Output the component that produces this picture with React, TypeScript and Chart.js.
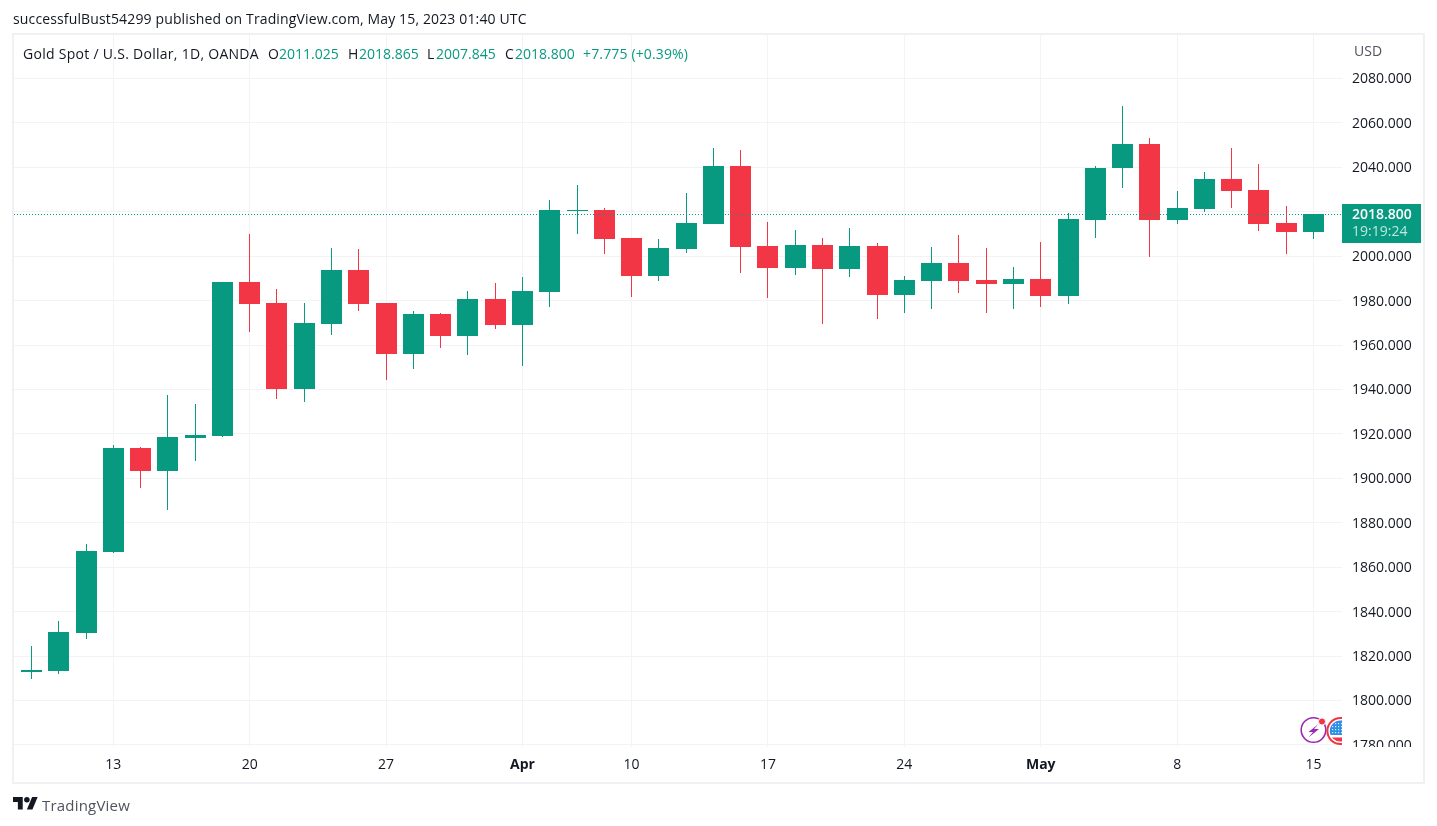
import React, { useEffect, useRef } from 'react';
import { Chart, registerables } from 'chart.js';

Chart.register(...registerables);

const dates = [
    'Mar 8', 'Mar 9', 'Mar 10', 'Mar 13', 'Mar 14', 'Mar 15', 'Mar 16', 'Mar 17',
    'Mar 20', 'Mar 21', 'Mar 22', 'Mar 23', 'Mar 24', 'Mar 27', 'Mar 28', 'Mar 29', 'Mar 30', 'Mar 31',
    'Apr 3', 'Apr 4', 'Apr 5', 'Apr 6', 'Apr 10', 'Apr 11', 'Apr 12', 'Apr 13', 'Apr 14',
    'Apr 17', 'Apr 18', 'Apr 19', 'Apr 20', 'Apr 21', 'Apr 24', 'Apr 25', 'Apr 26', 'Apr 27', 'Apr 28',
    'May 1', 'May 2', 'May 3', 'May 4', 'May 5', 'May 8', 'May 9', 'May 10', 'May 11', 'May 12', 'May 15',
];

const opens = [
    1812.8, 1813.3, 1830.4, 1866.9, 1913.8, 1903.4, 1918.3, 1919.2,
    1988.5, 1979.0, 1940.3, 1969.6, 1994.0, 1979.0, 1956.1, 1974.1, 1964.2, 1980.9,
    1969.2, 1984.0, 2020.5, 2021.0, 2008.4, 1991.2, 2003.4, 2014.7, 2040.8,
    2004.8, 1994.8, 2005.2, 1994.4, 2004.8, 1982.7, 1989.0, 1997.1, 1989.4, 1987.6,
    1989.9, 1982.2, 2016.5, 2039.5, 2050.7, 2016.5, 2021.4, 2034.9, 2030.0, 2015.1, 2011.025,
];
const highs = [
    1824.6, 1835.8, 1870.5, 1915.1, 1914.2, 1937.6, 1933.6, 1988.6,
    2010.2, 1985.4, 1979.0, 2003.9, 2003.4, 1979.0, 1975.5, 1974.6, 1984.5, 1988.1,
    1990.8, 2025.5, 2032.2, 2021.9, 2008.4, 2007.9, 2028.6, 2048.9, 2048.0,
    2015.6, 2012.0, 2008.4, 2012.9, 2006.1, 1991.2, 2004.3, 2009.7, 2003.9, 1995.3,
    2006.6, 2019.6, 2040.8, 2067.4, 2053.4, 2029.5, 2038.1, 2048.5, 2041.7, 2022.8, 2018.865,
];
const lows = [
    1809.7, 1811.9, 1827.7, 1866.5, 1895.7, 1885.8, 1907.9, 1918.7,
    1966.0, 1935.8, 1934.5, 1964.7, 1975.5, 1944.4, 1949.3, 1958.8, 1955.7, 1967.4,
    1950.7, 1977.3, 2010.2, 2001.2, 1981.8, 1989.0, 2001.6, 2014.6, 1992.6,
    1981.3, 1991.7, 1969.6, 1990.8, 1971.9, 1974.6, 1976.4, 1983.6, 1974.6, 1976.4,
    1977.3, 1978.6, 2008.4, 2030.9, 1999.8, 2014.7, 2020.1, 2021.9, 2011.5, 2001.2, 2007.845,
];
const closes = [
    1813.7, 1830.9, 1867.3, 1913.8, 1903.4, 1918.7, 1919.6, 1988.5,
    1978.6, 1940.3, 1970.1, 1994.0, 1978.6, 1956.1, 1974.1, 1964.2, 1980.9, 1969.2,
    1984.5, 2021.0, 2021.0, 2007.9, 1991.2, 2003.9, 2015.1, 2040.8, 2004.3,
    1994.8, 2005.2, 1994.4, 2004.8, 1982.7, 1989.4, 1997.1, 1989.0, 1987.6, 1989.9,
    1982.2, 2016.9, 2039.9, 2050.7, 2016.5, 2021.9, 2034.9, 2029.5, 2014.7, 2011.1, 2018.8,
];

const tickDates = ['Mar 13', 'Mar 20', 'Mar 27', 'Apr 3', 'Apr 10', 'Apr 17', 'Apr 24', 'May 1', 'May 8', 'May 15'];
const tickLabels = ['13', '20', '27', 'Apr', '10', '17', '24', 'May', '8', '15'];
const boldTicks = ['Apr', 'May'];

const UP = '#089981';
const DOWN = '#F23645';
const GRID = '#f3f3f6';
const FRAME = '#f0f0f5';
const TEXT = '#131722';
const FONT = '"Open Sans", sans-serif';

const X_MIN = -0.6416;
const X_MAX = 48.044;
const Y_MIN = 1779.07;
const Y_MAX = 2099.58;

const lastIndex = closes.length - 1;
const candleColors = closes.map((c, i) => (c >= opens[i] ? UP : DOWN));
const fmt = (v: number) => v.toFixed(3);
const change = closes[lastIndex] - opens[lastIndex];

// TradingView draws candles on whole pixels, so snap what the scales placed
const snapBars = {
    id: 'snapBars',
    beforeDatasetsDraw(chart: any) {
        chart.getSortedVisibleDatasetMetas().forEach((meta: any) => {
            meta.data.forEach((el: any) => {
                if (meta.type === 'line') {
                    el.y = Math.floor(el.y) + 0.5;
                    return;
                }
                el.x = Math.floor(el.x) + 0.5;
                el.y = Math.round(el.y);
                el.base = Math.round(el.base);
                if (el.y === el.base) el.base += 1;
            });
        });
    },
};

// Open Sans sits a bit high on the middle baseline
const nudgeLabels = {
    id: 'nudgeLabels',
    beforeDraw(chart: any) {
        chart.scales.y.getLabelItems(chart.chartArea).forEach((item: any) => {
            item.options.translation[1] += 1;
        });
    },
};

// last price tag + clipping of the lowest axis label
const priceTag = {
    id: 'priceTag',
    afterDraw(chart: any) {
        const { ctx, chartArea, scales } = chart;
        const y = Math.round(scales.y.getPixelForValue(closes[lastIndex]));
        ctx.save();
        ctx.fillStyle = '#ffffff';
        ctx.fillRect(chartArea.right, chartArea.bottom, scales.y.width - 2, scales.x.height - 2);
        ctx.fillStyle = UP;
        ctx.fillRect(chartArea.right, y - 10, 79, 39);
        ctx.textBaseline = 'middle';
        ctx.textAlign = 'left';
        ctx.font = `600 14px ${FONT}`;
        ctx.fillStyle = '#ffffff';
        ctx.fillText(closes[lastIndex].toFixed(3), chartArea.right + 10, y + 1);
        ctx.font = `14px ${FONT}`;
        ctx.fillStyle = 'rgba(255,255,255,0.75)';
        ctx.fillText('19:19:24', chartArea.right + 10, y + 18.5);
        ctx.restore();
    },
};

const abs = (left: number, top: number, color: string, spacing = 0): React.CSSProperties => ({
    position: 'absolute',
    left,
    top,
    color,
    font: `14px/20px ${FONT}`,
    letterSpacing: spacing,
    whiteSpace: 'nowrap',
});

const EventIcons: React.FC = () => (
    <svg style={{ position: 'absolute', left: 1298, top: 714, overflow: 'hidden' }} width={44} height={33} viewBox="0 0 44 33">
        <defs>
            <clipPath id="flagClip">
                <circle cx={42.4} cy={17} r={10.6} />
            </clipPath>
        </defs>
        <circle cx={15.5} cy={16} r={12.3} fill="#fff" stroke="#9c27b0" strokeWidth={1.6} />
        <path d="M20.5 10 L10.5 18 L15 18 L10.5 23.5 L21 15 L16 15 Z" fill="#9c27b0" />
        <circle cx={24} cy={7.5} r={3.6} fill={DOWN} stroke="#fff" strokeWidth={1} />
        <circle cx={42.4} cy={17} r={13} fill="#fff" stroke={DOWN} strokeWidth={2} />
        <g clipPath="url(#flagClip)">
            <rect x={30} y={6} width={14} height={15} fill="#2f8fe6" />
            {[9, 12, 15, 18].map((dy) =>
                [34, 37, 40, 43].map((dx) => <rect key={`${dx}-${dy}`} x={dx} y={dy} width={1.2} height={1.2} fill="#d6ecff" />),
            )}
            <rect x={30} y={23.5} width={14} height={5} fill={DOWN} />
        </g>
    </svg>
);

const App: React.FC = () => {
    const canvasRef = useRef<HTMLCanvasElement>(null);

    useEffect(() => {
        document.body.style.margin = '0';
        if (!canvasRef.current) return;
        const chart = new Chart(canvasRef.current, {
            type: 'bar',
            data: {
                datasets: [
                    {
                        type: 'line',
                        data: [
                            { x: X_MIN, y: closes[lastIndex] },
                            { x: X_MAX, y: closes[lastIndex] },
                        ],
                        borderColor: UP,
                        borderWidth: 1,
                        borderDash: [1, 2],
                        pointRadius: 0,
                    },
                    {
                        data: closes.map((c, i) => ({ x: i, y: [opens[i], c] })),
                        backgroundColor: candleColors,
                        barThickness: 21,
                        grouped: false,
                        inflateAmount: 0,
                    },
                    {
                        data: highs.map((h, i) => ({ x: i, y: [lows[i], h] })),
                        backgroundColor: candleColors,
                        barThickness: 1,
                        grouped: false,
                        inflateAmount: 0,
                    },
                ] as any,
            },
            options: {
                responsive: false,
                animation: false,
                layout: { padding: { left: 14, top: 35, right: 14, bottom: 45 } },
                plugins: { legend: { display: false }, tooltip: { enabled: false } },
                scales: {
                    x: {
                        type: 'linear',
                        offset: false,
                        min: X_MIN,
                        max: X_MAX,
                        afterBuildTicks: (scale: any) => {
                            scale.ticks = tickDates.map((d) => ({ value: dates.indexOf(d) }));
                        },
                        afterFit: (scale: any) => {
                            scale.height = 34;
                        },
                        grid: { color: GRID, drawTicks: false, offset: false },
                        border: { display: false },
                        ticks: {
                            autoSkip: false,
                            maxRotation: 0,
                            padding: 10,
                            color: TEXT,
                            callback: (value: any) => tickLabels[tickDates.indexOf(dates[value])],
                            font: (ctx: any) => ({
                                family: FONT,
                                size: 14,
                                weight: boldTicks.includes(ctx.tick?.label) ? 'bold' : 'normal',
                            }),
                        },
                    },
                    y: {
                        position: 'right',
                        min: Y_MIN,
                        max: Y_MAX,
                        afterFit: (scale: any) => {
                            scale.width = 81;
                        },
                        grid: { color: GRID, drawTicks: false },
                        border: { display: false },
                        ticks: {
                            stepSize: 20,
                            includeBounds: false,
                            padding: 10,
                            color: TEXT,
                            font: { family: FONT, size: 14 },
                            callback: (value: any) => fmt(Number(value)),
                        },
                    },
                },
            },
            plugins: [snapBars, nudgeLabels, priceTag],
        } as any);
        return () => chart.destroy();
    }, []);

    return (
        <div style={{ position: 'absolute', left: 0, top: 0, width: 1437, height: 826, overflow: 'hidden', background: '#fff' }}>
            <canvas ref={canvasRef} width={1437} height={826} style={{ position: 'absolute', left: 0, top: 0, display: 'block' }} />
            <div style={{ position: 'absolute', left: 12, top: 33, width: 1409, height: 747, border: `2px solid ${FRAME}`, pointerEvents: 'none' }} />
            <span style={abs(13, 9, TEXT, 0.14)}>successfulBust54299 published on TradingView.com, May 15, 2023 01:40 UTC</span>
            <span style={abs(23, 44, TEXT, 0.28)}>Gold Spot / U.S. Dollar, 1D, OANDA</span>
            <span style={abs(268, 44, TEXT)}>O</span>
            <span style={abs(279, 44, UP)}>{fmt(opens[lastIndex])}</span>
            <span style={abs(348, 44, TEXT)}>H</span>
            <span style={abs(359, 44, UP)}>{fmt(highs[lastIndex])}</span>
            <span style={abs(427, 44, TEXT)}>L</span>
            <span style={abs(436, 44, UP)}>{fmt(lows[lastIndex])}</span>
            <span style={abs(505, 44, TEXT)}>C</span>
            <span style={abs(515, 44, UP)}>{fmt(closes[lastIndex])}</span>
            <span style={abs(583, 44, UP, 0.15)}>+{change.toFixed(3)} (+0.39%)</span>
            <span style={abs(1354, 41, '#50535e')}>USD</span>
            <EventIcons />
            <svg style={{ position: 'absolute', left: 13, top: 794 }} width={25} height={20} viewBox="0 0 36 28">
                <path d="M14 22H7V11H0V4h14v18zM28 22h-8l7.5-18h8L28 22z" fill={TEXT} />
                <circle cx={20} cy={8} r={4} fill={TEXT} />
            </svg>
            <span style={{ ...abs(42, 795, '#50535e', 0.2), fontSize: 15 }}>TradingView</span>
        </div>
    );
};

export default App;
